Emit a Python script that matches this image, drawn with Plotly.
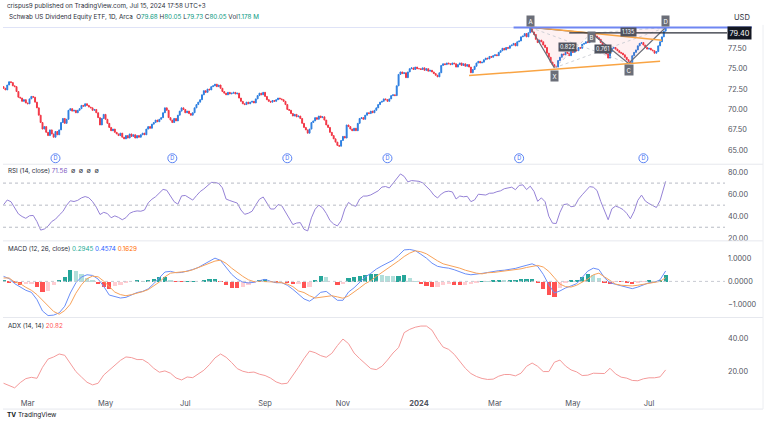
import pandas as pd
import plotly.graph_objects as go

# ---------------- data ----------------
holidays = ["2023-02-20", "2023-04-07", "2023-05-29", "2023-06-19", "2023-07-04",
            "2023-09-04", "2023-11-23", "2023-12-25", "2024-01-01", "2024-01-15",
            "2024-02-19", "2024-03-29", "2024-05-27", "2024-06-19", "2024-07-04"]
dates = pd.bdate_range("2023-02-09", "2024-07-15", freq="C", holidays=holidays)

closes_2023 = [
    72.6, 72.4, 73.0, 73.4, 73.3, 72.9, 72.8, 72.2, 71.5, 71.4, 71.0, 71.2, 70.8,            # feb
    70.7, 71.3, 71.6, 71.5, 70.9, 70.2, 69.3, 68.4, 67.6, 67.9, 67.2, 66.8, 67.5, 67.0,
    66.6, 67.3, 66.9, 67.5, 68.4, 68.9, 68.3, 68.8, 69.9,                                    # mar
    70.1, 69.8, 69.9, 69.6, 69.9, 70.1, 70.5, 70.4, 70.7, 70.5, 70.3, 70.2, 69.9, 70.0,
    69.6, 69.0, 68.1, 68.9, 69.4,                                                            # apr
    68.8, 68.3, 67.8, 67.4, 67.6, 67.2, 67.0, 66.8, 67.1, 66.6, 66.4, 66.8, 66.5, 67.0,
    66.7, 66.9, 66.5, 66.8, 66.6, 66.9, 67.1, 66.9,                                          # may
    67.6, 67.9, 67.7, 68.2, 68.4, 68.7, 68.5, 68.8, 69.0, 69.6, 70.2, 69.9, 69.0, 68.7,
    68.4, 68.9, 68.6, 69.3, 69.8, 70.2, 70.0,                                                # jun
    69.6, 69.8, 69.5, 69.3, 69.6, 70.2, 70.6, 70.9, 71.2, 71.8, 72.3, 72.1, 72.5, 72.4,
    72.8, 72.9, 73.1, 72.8, 73.0, 72.6,                                                      # jul
    72.2, 72.0, 71.8, 72.1, 71.9, 72.0, 72.1, 71.9, 72.0, 71.4, 71.0, 70.7, 70.6, 70.9,
    70.7, 70.9, 71.0, 70.8, 71.3, 71.7, 72.0, 71.8, 72.1,                                    # aug
    71.6, 71.2, 71.0, 70.9, 71.1, 71.0, 71.2, 71.4, 71.3, 71.2, 71.0, 70.6, 70.0, 69.9,
    69.5, 69.2, 69.4, 69.1, 69.2, 68.9,                                                      # sep
    68.3, 67.8, 67.5, 67.1, 67.6, 68.4, 68.6, 69.0, 68.8, 69.2, 69.0, 69.1, 68.7, 68.1,
    67.8, 67.2, 66.8, 66.4, 66.0, 65.6, 65.5, 66.2,                                          # oct
    66.7, 66.5, 68.1, 67.9, 67.6, 67.4, 67.7, 67.4, 68.3, 68.9, 69.0, 68.8, 69.3, 69.6,
    69.5, 69.8, 69.6, 69.9, 70.2, 70.6, 70.9,                                                # nov
    71.0, 71.3, 71.2, 71.0, 71.3, 71.7, 71.8, 71.7, 72.9, 74.3, 74.6, 74.4, 74.5, 73.9,
    74.6, 75.0, 75.1, 74.9, 75.2, 75.0,                                                      # dec
]
closes_2024 = [
    75.0, 74.9, 75.1, 74.8, 75.0, 74.7, 74.8, 74.6, 74.4, 74.2, 74.0, 74.5, 75.4, 75.6,
    75.5, 75.7, 75.6, 75.5, 75.7, 75.6, 75.2,                                                # jan
    75.5, 75.7, 75.4, 75.6, 75.3, 75.5, 75.2, 74.5, 74.9, 75.3, 75.7, 75.9, 75.7, 75.8,
    76.1, 76.3, 76.2, 76.5, 76.4, 76.6,                                                      # feb
    76.7, 76.6, 77.0, 77.2, 77.5, 77.3, 77.6, 77.5, 77.8, 77.9, 78.1, 77.8, 78.3, 78.4,
    78.9, 79.0, 79.3, 78.9, 79.4, 80.0,                                                      # mar
    79.5, 79.2, 78.6, 78.2, 78.5, 78.3, 77.9, 77.6, 76.9, 76.4, 75.8, 75.5, 75.3, 75.2,
    76.0, 76.4, 76.8, 76.7, 77.0, 76.9, 76.6, 77.1,                                          # apr
    77.0, 77.3, 77.2, 77.6, 77.5, 78.0, 78.1, 78.3, 78.2, 78.5, 78.9, 79.3, 79.0, 78.8,
    78.6, 78.2, 77.8, 77.5, 76.8, 76.3, 77.1, 77.5,                                          # may
    77.6, 77.4, 77.2, 77.0, 76.9, 76.7, 76.4, 76.1, 75.9, 75.7, 76.6, 77.0, 77.3, 77.8,
    78.1, 78.2, 77.9, 77.6, 77.4,                                                            # jun
    77.5, 77.3, 77.2, 76.9, 77.1, 77.8, 78.3, 78.9, 79.6, 80.05,                             # jul
]
closes = closes_2023 + closes_2024
first_open = 72.8

# RSI read every 2nd session (plus the last one)
rsi_vals = [
    50.4, 54.7, 53.1, 47.6, 42.1, 39.7, 38.1, 40.4, 40.7, 35.1,
    27.4, 28.4, 31.0, 35.2, 37.3, 41.0, 44.3, 49.9, 54.0, 53.3,
    54.4, 56.6, 57.8, 56.7, 53.2, 48.2, 41.5, 43.5, 42.4, 38.6,
    40.3, 38.9, 36.8, 38.7, 42.6, 44.1, 44.8, 44.5, 45.6, 52.1,
    55.4, 57.7, 60.8, 64.3, 63.5, 58.4, 53.1, 50.9, 58.4, 58.8,
    56.9, 54.6, 58.6, 62.3, 64.7, 67.8, 70.6, 70.6, 69.7, 65.7,
    55.5, 54.2, 52.7, 51.9, 45.6, 41.7, 42.7, 44.5, 50.2, 55.4,
    57.4, 51.6, 46.5, 46.5, 50.5, 49.5, 44.0, 38.8, 32.4, 33.8,
    34.2, 28.1, 26.7, 38.5, 46.3, 50.0, 47.6, 42.6, 36.1, 32.9,
    31.2, 35.9, 46.5, 52.5, 49.9, 49.0, 55.6, 58.2, 58.3, 59.3,
    61.4, 63.0, 66.4, 66.9, 65.6, 70.1, 74.0, 78.3, 76.1, 71.1,
    72.3, 72.2, 71.6, 70.2, 66.7, 63.6, 59.1, 56.5, 60.1, 62.1,
    62.7, 62.0, 55.6, 58.3, 57.6, 58.0, 53.2, 54.8, 59.9, 59.7,
    59.2, 60.8, 60.9, 62.2, 63.0, 64.9, 65.5, 66.3, 64.0, 67.9,
    68.4, 64.1, 67.2, 62.5, 53.5, 56.6, 53.1, 40.0, 33.7, 33.4,
    43.5, 50.5, 51.1, 48.6, 49.2, 55.4, 59.4, 63.6, 66.8, 66.3,
    63.3, 53.4, 45.7, 36.8, 46.7, 49.2, 47.9, 46.0, 42.6, 37.7,
    44.3, 54.4, 59.1, 53.8, 51.5, 50.0, 47.9, 54.2, 66.5, 71.56,
]

# MACD / signal / histogram / ADX read every 3rd session
macd_vals = [
    0.22, 0.12, -0.10, -0.26, -0.39, -0.48, -0.80, -1.30, -1.50, -1.48,
    -1.38, -1.09, -0.51, -0.06, 0.19, 0.29, 0.26, 0.10, -0.22, -0.60,
    -0.67, -0.73, -0.70, -0.58, -0.49, -0.44, -0.33, -0.10, 0.17, 0.41,
    0.44, 0.38, 0.39, 0.45, 0.52, 0.61, 0.74, 0.89, 1.02, 0.92,
    0.63, 0.31, 0.10, -0.03, -0.07, -0.04, 0.03, 0.09, 0.00, -0.06,
    -0.06, -0.17, -0.35, -0.54, -0.77, -0.87, -0.70, -0.48, -0.44, -0.63,
    -0.83, -0.83, -0.47, -0.28, -0.04, 0.19, 0.35, 0.54, 0.68, 0.80,
    0.93, 1.14, 1.38, 1.40, 1.35, 1.19, 1.02, 0.80, 0.66, 0.61,
    0.58, 0.51, 0.41, 0.33, 0.29, 0.31, 0.35, 0.39, 0.44, 0.47,
    0.49, 0.52, 0.57, 0.64, 0.70, 0.77, 0.66, 0.31, -0.15, -0.51,
    -0.42, -0.29, -0.20, -0.10, 0.17, 0.45, 0.58, 0.52, 0.16, -0.06,
    -0.13, -0.19, -0.26, -0.32, -0.25, -0.15, -0.06, -0.04, 0.07, 0.4574,
]
signal_vals = [
    0.15, 0.15, -0.03, -0.10, -0.26, -0.39, -0.58, -0.83, -1.08, -1.32,
    -1.44, -1.28, -1.00, -0.52, -0.15, 0.12, 0.23, 0.20, 0.01, -0.25,
    -0.47, -0.58, -0.63, -0.58, -0.52, -0.45, -0.36, -0.20, -0.03, 0.20,
    0.36, 0.39, 0.41, 0.44, 0.51, 0.61, 0.68, 0.79, 0.89, 0.93,
    0.79, 0.58, 0.38, 0.22, 0.07, -0.01, 0.00, 0.00, 0.00, -0.03,
    -0.06, -0.12, -0.23, -0.42, -0.49, -0.63, -0.73, -0.70, -0.64, -0.63,
    -0.68, -0.74, -0.64, -0.48, -0.29, -0.10, 0.03, 0.22, 0.39, 0.55,
    0.71, 0.90, 1.09, 1.24, 1.34, 1.30, 1.21, 1.05, 0.90, 0.77,
    0.71, 0.66, 0.58, 0.49, 0.42, 0.36, 0.33, 0.38, 0.39, 0.42,
    0.45, 0.48, 0.51, 0.55, 0.61, 0.67, 0.70, 0.63, 0.44, 0.16,
    -0.12, -0.23, -0.25, -0.17, -0.04, 0.10, 0.29, 0.36, 0.20, 0.03,
    -0.12, -0.17, -0.20, -0.20, -0.17, -0.13, -0.09, -0.06, 0.00, 0.1629,
]
hist_vals = [
    0.07, -0.03, -0.07, -0.16, -0.13, -0.09, -0.22, -0.47, -0.42, -0.16,
    0.06, 0.19, 0.49, 0.46, 0.34, 0.17, 0.03, -0.10, -0.23, -0.35,
    -0.20, -0.15, -0.07, 0.00, 0.03, 0.01, 0.03, 0.10, 0.20, 0.21,
    0.08, -0.01, -0.02, 0.01, 0.01, 0.00, 0.06, 0.10, 0.13, -0.01,
    -0.16, -0.27, -0.28, -0.25, -0.14, -0.03, 0.03, 0.09, 0.00, -0.03,
    0.00, -0.05, -0.12, -0.12, -0.28, -0.24, 0.03, 0.22, 0.20, 0.00,
    -0.15, -0.09, 0.17, 0.20, 0.25, 0.29, 0.32, 0.32, 0.29, 0.25,
    0.22, 0.24, 0.29, 0.16, 0.01, -0.11, -0.19, -0.25, -0.24, -0.16,
    -0.13, -0.15, -0.17, -0.16, -0.13, -0.05, 0.02, 0.01, 0.05, 0.05,
    0.04, 0.04, 0.06, 0.09, 0.09, 0.10, -0.04, -0.32, -0.59, -0.67,
    -0.30, -0.06, 0.05, 0.07, 0.21, 0.35, 0.29, 0.16, -0.04, -0.09,
    -0.01, -0.02, -0.06, -0.12, -0.08, -0.02, 0.03, 0.02, 0.07, 0.2945,
]
adx_vals = [
    12.7, 11.5, 9.9, 13.1, 15.5, 16.3, 15.7, 22.4, 27.4, 28.7,
    30.5, 29.7, 24.8, 19.8, 16.5, 13.3, 11.7, 12.7, 17.7, 20.6,
    24.0, 26.6, 28.7, 28.3, 27.1, 27.1, 25.0, 21.8, 19.4, 20.2,
    18.8, 15.9, 14.7, 16.5, 16.1, 18.6, 20.6, 24.0, 28.1, 30.5,
    28.5, 25.3, 21.6, 20.0, 19.2, 19.5, 18.2, 17.4, 15.8, 13.5,
    12.3, 12.7, 17.4, 22.4, 27.7, 32.3, 31.3, 29.5, 28.5, 30.9,
    35.6, 39.6, 36.8, 31.1, 27.7, 24.7, 21.6, 21.0, 23.0, 26.8,
    31.1, 34.4, 43.5, 45.5, 46.8, 47.5, 47.5, 45.0, 39.4, 34.7,
    33.3, 30.3, 26.1, 21.8, 18.6, 16.8, 15.6, 15.0, 15.2, 17.0,
    18.0, 18.0, 17.2, 18.8, 23.0, 25.0, 23.0, 19.8, 19.8, 25.5,
    26.8, 23.2, 20.8, 19.6, 17.4, 17.6, 18.8, 18.8, 18.6, 21.8,
    18.4, 16.4, 15.8, 14.4, 14.2, 15.4, 16.0, 16.0, 16.6, 20.82,
]

dividend_dates = ["2023-03-22", "2023-06-22", "2023-09-20", "2023-12-06", "2024-03-20", "2024-06-26"]

# XABCD drawing
pattern_lbl = ["X", "A", "B", "C", "D"]
pattern_day = ["2024-04-17", "2024-03-28", "2024-05-15", "2024-06-13", "2024-07-15"]
pattern_px = [75.10, 80.05, 79.35, 75.65, 80.05]
support_day = ["2024-02-09", "2024-07-10"]
support_px = [74.15, 75.90]
resist_day = ["2024-03-28", "2024-07-11"]
resist_px = [80.10, 78.50]
blue_level, blue_from = 80.05, "2024-03-15"
black_level, black_from = 79.40, "2024-04-29"

price_ticks = [65.0, 67.5, 70.0, 72.5, 75.0, 77.5]
month_ticks = [(2023, 3, "Mar"), (2023, 5, "May"), (2023, 7, "Jul"), (2023, 9, "Sep"),
               (2023, 11, "Nov"), (2024, 1, "<b>2024</b>"), (2024, 3, "Mar"), (2024, 5, "May"),
               (2024, 7, "Jul")]

# ---------------- derived ----------------
n = len(closes)
assert n == len(dates), (n, len(dates))
idx = list(range(n))
pos = {d.strftime("%Y-%m-%d"): i for i, d in enumerate(dates)}
opens = [first_open] + closes[:-1]
highs = [max(o, c) for o, c in zip(opens, closes)]
lows = [min(o, c) for o, c in zip(opens, closes)]
rsi_x = list(range(0, n - 1, 2)) + [n - 1]
m_x = list(range(0, n, 3))

hist_col = []
for k, h in enumerate(hist_vals):
    prev = hist_vals[k - 1] if k else h
    if h >= 0:
        hist_col.append("#26a69a" if h >= prev else "#b2dfdb")
    else:
        hist_col.append("#ff5252" if h < prev else "#ffcdd2")

# ---------------- layout geometry (pixels) ----------------
W, H = 768, 427
ML, MR = 3, 43
XR = [-0.3, 389]


def pxx(x):
    return (x - ML) / (W - ML - MR)


def pxy(y):
    return 1 - y / H


def ix(i):
    return (i - XR[0]) / (XR[1] - XR[0])


P_TOP, P_RSI, P_MACD, P_ADX, P_BOT = 25, 165, 242, 319, 395
price_rng = [63.29, 80.37]
rsi_rng = [17.65, 87.1]
macd_rng = [-1.585, 1.777]
adx_rng = [6.67, 52.7]

UP, DN = "#2d7fe0", "#f23645"
FONT = "Inter"

fig = go.Figure()
fig.add_trace(go.Candlestick(
    x=idx, open=opens, high=highs, low=lows, close=closes,
    increasing=dict(line=dict(color=UP, width=1), fillcolor=UP),
    decreasing=dict(line=dict(color=DN, width=1), fillcolor=DN),
    whiskerwidth=0, showlegend=False, hoverinfo="skip", xaxis="x", yaxis="y"))

# pattern fills and lines
p_i = [pos[d] for d in pattern_day]
for tri in ([0, 1, 2, 0], [2, 3, 4, 2]):
    fig.add_trace(go.Scatter(x=[p_i[t] for t in tri], y=[pattern_px[t] for t in tri],
                             fill="toself", fillcolor="rgba(242,54,69,0.07)",
                             line=dict(width=0), mode="lines", showlegend=False, yaxis="y"))
for a, b in ((0, 2), (1, 3), (2, 4), (0, 4)):
    fig.add_trace(go.Scatter(x=[p_i[a], p_i[b]], y=[pattern_px[a], pattern_px[b]], mode="lines",
                             line=dict(color="#c3c6ce", width=0.8, dash="dot"),
                             showlegend=False, yaxis="y"))
fig.add_trace(go.Scatter(x=p_i, y=pattern_px, mode="lines", line=dict(color="#6b6e78", width=1.2),
                         showlegend=False, yaxis="y"))
fig.add_trace(go.Scatter(x=[pos[d] for d in support_day], y=support_px, mode="lines",
                         line=dict(color="#f9a443", width=1.5), showlegend=False, yaxis="y"))
fig.add_trace(go.Scatter(x=[pos[d] for d in resist_day], y=resist_px, mode="lines",
                         line=dict(color="#f9a443", width=1.5), showlegend=False, yaxis="y"))

# dividend markers, drawn just above the bottom of the price pane
div_level = price_rng[0] + (165 - 159) / (165 - 25) * (price_rng[1] - price_rng[0])
fig.add_trace(go.Scatter(x=[pos[d] for d in dividend_dates], y=[div_level] * len(dividend_dates),
                         mode="markers+text", text=["D"] * len(dividend_dates),
                         textposition="middle center", textfont=dict(size=5.5, color="#3d6df2", family=FONT),
                         marker=dict(size=9, color="white", line=dict(color="#5b84f5", width=1)),
                         showlegend=False, cliponaxis=False, yaxis="y"))

# RSI
fig.add_trace(go.Scatter(x=rsi_x, y=rsi_vals, mode="lines", line=dict(color="#9582d6", width=1),
                         showlegend=False, yaxis="y2"))
# MACD
fig.add_trace(go.Bar(x=m_x, y=hist_vals, marker=dict(color=hist_col, line=dict(width=0)),
                     width=2.3, showlegend=False, yaxis="y3"))
fig.add_trace(go.Scatter(x=m_x, y=macd_vals, mode="lines", line=dict(color="#6a8ef7", width=1),
                         showlegend=False, yaxis="y3"))
fig.add_trace(go.Scatter(x=m_x, y=signal_vals, mode="lines", line=dict(color="#f7a25a", width=1),
                         showlegend=False, yaxis="y3"))
# ADX
fig.add_trace(go.Scatter(x=m_x, y=adx_vals, mode="lines", line=dict(color="#f49a9a", width=1),
                         showlegend=False, yaxis="y4"))

tick_font = dict(family=FONT, size=7.3, color="#50535e")
yax = dict(side="right", showgrid=False, zeroline=False, showline=False, ticks="",
           tickfont=tick_font, anchor="x", fixedrange=True, ticklabelstandoff=2)

m_vals, m_text = [], []
for y, m, t in month_ticks:
    m_vals.append(next(i for i, d in enumerate(dates) if d.year == y and d.month == m))
    m_text.append(t)

shapes = []
# panel separators
for y in (P_RSI, P_MACD, P_ADX, 411):
    shapes.append(dict(type="line", xref="paper", yref="paper", x0=pxx(3), x1=pxx(763),
                       y0=pxy(y), y1=pxy(y), line=dict(color="#e6e8ee", width=1)))
shapes.append(dict(type="line", xref="paper", yref="paper", x0=pxx(763), x1=pxx(763),
                   y0=pxy(P_TOP), y1=pxy(411), line=dict(color="#eceef2", width=1)))
# RSI bands and MACD zero
for lvl in (70, 50, 30):
    shapes.append(dict(type="line", xref="paper", yref="y2", x0=0, x1=1, y0=lvl, y1=lvl,
                       line=dict(color="#b8bbc4", width=1, dash="dot")))
shapes.append(dict(type="line", xref="paper", yref="y3", x0=0, x1=1, y0=0, y1=0,
                   line=dict(color="#c8cad2", width=1, dash="dot")))
# horizontal levels
shapes.append(dict(type="line", xref="paper", yref="y", x0=0, x1=pxx(752), y0=blue_level, y1=blue_level,
                   line=dict(color="#dfe3f7", width=1)))
shapes.append(dict(type="line", xref="paper", yref="y", x0=ix(pos[blue_from]), x1=pxx(752),
                   y0=blue_level, y1=blue_level, line=dict(color="#6f86f2", width=2)))
shapes.append(dict(type="line", xref="paper", yref="y", x0=ix(pos[black_from]), x1=pxx(727),
                   y0=black_level, y1=black_level, line=dict(color="#2a2e39", width=1.3)))

ann = []
small = dict(family=FONT, size=6.3, color="#2a2e39")
ann.append(dict(x=pxx(5), y=pxy(6), xref="paper", yref="paper", xanchor="left", yanchor="middle",
                text="crispus9 published on TradingView.com, Jul 15, 2024 17:58 UTC+3",
                showarrow=False, font=small))
teal = "#089981"
ann.append(dict(x=pxx(7), y=pxy(17), xref="paper", yref="paper", xanchor="left", yanchor="middle",
                text=("Schwab US Dividend Equity ETF, 1D, Arca  "
                      f"O<span style='color:{teal}'>79.68</span> H<span style='color:{teal}'>80.05</span> "
                      f"L<span style='color:{teal}'>79.73</span> C<span style='color:{teal}'>80.05</span> "
                      f"Vol<span style='color:{teal}'>1.178 M</span>"),
                showarrow=False, font=small))
ann.append(dict(x=pxx(732), y=pxy(18), xref="paper", yref="paper", xanchor="left", yanchor="middle",
                text="USD", showarrow=False, font=dict(family=FONT, size=7.5, color="#2a2e39")))
ann.append(dict(x=pxx(727), y=black_level, xref="paper", yref="y", xanchor="left", yanchor="middle",
                text="79.40", showarrow=False, bgcolor="#131722", borderpad=1.5,
                font=dict(family=FONT, size=7.3, color="white")))
ann.append(dict(x=pxx(6), y=pxy(172), xref="paper", yref="paper", xanchor="left", yanchor="middle",
                text="RSI (14, close) <span style='color:#7e57c2'>71.56</span>  ∅  ∅  ∅  ∅",
                showarrow=False, font=small))
ann.append(dict(x=pxx(6), y=pxy(250), xref="paper", yref="paper", xanchor="left", yanchor="middle",
                text=("MACD (12, 26, close) <span style='color:#22ab94'>0.2945</span> "
                      "<span style='color:#2962ff'>0.4574</span> <span style='color:#ff6d00'>0.1629</span>"),
                showarrow=False, font=small))
ann.append(dict(x=pxx(6), y=pxy(328), xref="paper", yref="paper", xanchor="left", yanchor="middle",
                text="ADX (14, 14) <span style='color:#ff5252'>20.82</span>",
                showarrow=False, font=small))
ann.append(dict(x=pxx(5), y=pxy(417), xref="paper", yref="paper", xanchor="left", yanchor="middle",
                text="<b>TV</b> TradingView", showarrow=False,
                font=dict(family=FONT, size=6.5, color="#131722")))
# pattern point labels (offsets in px from the pivot)
label_shift = {"X": -8, "A": 6, "B": -4, "C": -7, "D": 6}
for lbl, i, p in zip(pattern_lbl, p_i, pattern_px):
    ann.append(dict(x=i, y=p, xref="x", yref="y", text=lbl, showarrow=False,
                    yshift=label_shift[lbl], bgcolor="#6b6e78", borderpad=1.5,
                    font=dict(family=FONT, size=6, color="white")))
ann.append(dict(x=pos["2024-06-13"], y=79.55, xref="x", yref="y", text="1.135", showarrow=False,
                bgcolor="#50535e", borderpad=1, font=dict(family=FONT, size=5.5, color="white")))
ann.append(dict(x=pos["2024-04-26"], y=77.6, xref="x", yref="y", text="0.822", showarrow=False,
                bgcolor="#50535e", borderpad=1, font=dict(family=FONT, size=5.5, color="white")))
ann.append(dict(x=pos["2024-05-23"], y=77.4, xref="x", yref="y", text="0.761", showarrow=False,
                bgcolor="#50535e", borderpad=1, font=dict(family=FONT, size=5.5, color="white")))

fig.update_layout(
    width=W, height=H, margin=dict(l=ML, r=MR, t=0, b=0),
    paper_bgcolor="white", plot_bgcolor="white", showlegend=False, bargap=0,
    xaxis=dict(range=XR, anchor="y4", showgrid=False, zeroline=False, showline=False,
               tickvals=m_vals, ticktext=m_text, ticks="", ticklabelstandoff=4,
               tickfont=dict(family=FONT, size=7.5, color="#50535e"),
               rangeslider=dict(visible=False), fixedrange=True),
    yaxis=dict(yax, domain=[pxy(P_RSI), pxy(P_TOP)], range=price_rng,
               tickvals=price_ticks, ticktext=[f"{v:.2f}" for v in price_ticks]),
    yaxis2=dict(yax, domain=[pxy(P_MACD), pxy(P_RSI)], range=rsi_rng,
                tickvals=[20, 40, 60, 80], ticktext=["20.00", "40.00", "60.00", "80.00"]),
    yaxis3=dict(yax, domain=[pxy(P_ADX), pxy(P_MACD)], range=macd_rng,
                tickvals=[-1, 0, 1], ticktext=["\u22121.0000", "0.0000", "1.0000"]),
    yaxis4=dict(yax, domain=[pxy(P_BOT), pxy(P_ADX)], range=adx_rng,
                tickvals=[20, 40], ticktext=["20.00", "40.00"]),
    shapes=shapes, annotations=ann,
)

# the page's default body margin would shift the figure by 8px
fig.write_html("out.html", config={"displayModeBar": False},
               post_script="document.body.style.margin='0';")
